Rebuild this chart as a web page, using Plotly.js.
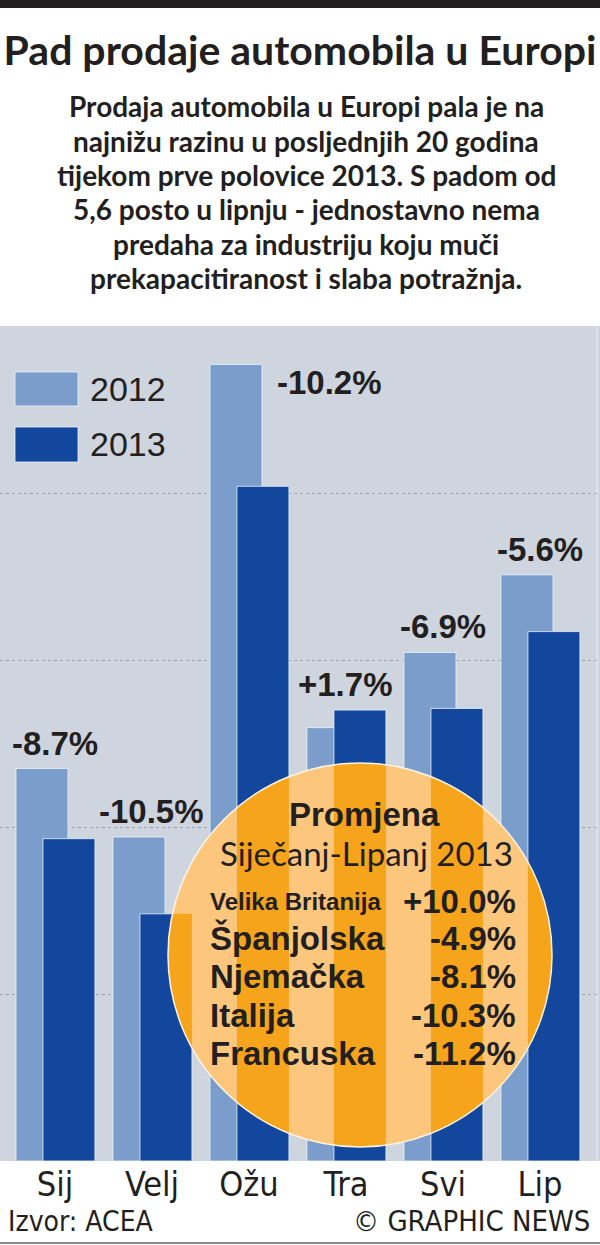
<!DOCTYPE html>
<html>
<head>
<meta charset="utf-8">
<script src="https://cdn.plot.ly/plotly-3.0.1.min.js"></script>
<style>html,body{margin:0;padding:0;background:#fff;}#chart{width:600px;height:1245px;}</style>
</head>
<body>
<div id="chart"></div>
<script>
// ---- data ----
const months = ['Sij', 'Velj', 'Ožu', 'Tra', 'Svi', 'Lip'];
const seriesNames = ['2012', '2013'];
const sales2012 = [970, 888, 1454, 1019, 1109, 1202];   // thousands (approx.)
const sales2013 = [886, 796, 1308, 1040, 1042, 1134];
const changeLabels = ['-8.7%', '-10.5%', '-10.2%', '+1.7%', '-6.9%', '-5.6%'];
const countries = ['Velika Britanija', 'Španjolska', 'Njemačka', 'Italija', 'Francuska'];
const countryChange = ['+10.0%', '-4.9%', '-8.1%', '-10.3%', '-11.2%'];

const title = 'Pad prodaje automobila u Europi';
const subtitleLines = [
  'Prodaja automobila u Europi pala je na',
  'najnižu razinu u posljednjih 20 godina',
  'tijekom prve polovice 2013. S padom od',
  '5,6 posto u lipnju - jednostavno nema',
  'predaha za industriju koju muči',
  'prekapacitiranost i slaba potražnja.'
];
const boxTitle = 'Promjena';
const boxSubtitle = 'Siječanj-Lipanj 2013';
const source = 'Izvor: ACEA';
const credit = '© GRAPHIC NEWS';

// ---- style ----
const W = 600, H = 1245;
const M = {l: 0, r: 0, t: 326, b: 84};
const xr = [-0.567, 5.619];
const yr = [500, 1500];
const off12 = -0.402, off13 = -0.124, bw = 0.536;
const cLight = '#7b9dcc', cDark = '#12479d', cBg = '#cfd5de';
const ink = '#231f20';
const paleOrange = '#fcc77d', satOrange = '#f6a41c';
const plotW = W - M.l - M.r, plotH = H - M.t - M.b;
const pxX = plotW / (xr[1] - xr[0]), pxY = plotH / (yr[1] - yr[0]);
const py = v => (H - M.b - v) / plotH; // pixel y -> paper y
const pxp = v => (v - M.l) / plotW;   // pixel x -> paper x

const xs = months.map((_, i) => i);

const barLine = {color: 'rgba(235,242,250,0.8)', width: 1};
const traces = [
  {type: 'bar', name: seriesNames[0], x: xs, y: sales2012.map(v => v - yr[0]), offset: off12, width: bw,
   base: yr[0], marker: {color: cLight, line: barLine}, hoverinfo: 'skip'},
  {type: 'bar', name: seriesNames[1], x: xs, y: sales2013.map(v => v - yr[0]), offset: off13, width: bw,
   base: yr[0], marker: {color: cDark, line: barLine}, hoverinfo: 'skip'}
];

// ---- circle overlay ----
const circ = {cx: 360, cy: 955, r: 192};
const cxP = pxp(circ.cx), cyP = py(circ.cy);
const cxD = xr[0] + cxP * (xr[1] - xr[0]);
const cyD = yr[0] + cyP * (yr[1] - yr[0]);
const rxD = circ.r / pxX, ryD = circ.r / pxY;

const shapes = [];
shapes.push({type: 'rect', xref: 'paper', yref: 'paper', x0: pxp(0), x1: pxp(600), y0: py(8), y1: py(0),
  fillcolor: ink, line: {width: 0}, layer: 'above'});
shapes.push({type: 'line', xref: 'paper', yref: 'paper', x0: pxp(0), x1: pxp(600), y0: py(1243), y1: py(1243),
  line: {color: '#8a8a8a', width: 2}});
shapes.push({type: 'line', xref: 'paper', yref: 'paper', x0: pxp(597), x1: pxp(597), y0: 0, y1: 1,
  line: {color: 'rgba(255,255,255,0.6)', width: 1}, layer: 'above'});
shapes.push({type: 'rect', xref: 'paper', yref: 'paper', x0: pxp(15), x1: pxp(78), y0: py(406), y1: py(372),
  fillcolor: cLight, line: barLine, layer: 'above'});
shapes.push({type: 'rect', xref: 'paper', yref: 'paper', x0: pxp(15), x1: pxp(78), y0: py(462), y1: py(427),
  fillcolor: cDark, line: barLine, layer: 'above'});

shapes.push({type: 'circle', xref: 'paper', yref: 'paper', xsizemode: 'pixel', ysizemode: 'pixel',
  xanchor: cxP, yanchor: cyP, x0: -circ.r, x1: circ.r, y0: -circ.r, y1: circ.r,
  fillcolor: paleOrange, line: {width: 0}, layer: 'above'});
sales2013.forEach((v, i) => {
  let a = Math.max(i + off13, cxD - rxD), b = Math.min(i + off13 + bw, cxD + rxD);
  if (b <= a) return;
  const N = 80, top = [], bot = [];
  for (let k = 0; k <= N; k++) {
    const x = a + (b - a) * k / N;
    const t = Math.max(0, 1 - Math.pow((x - cxD) / rxD, 2));
    const h = ryD * Math.sqrt(t);
    const lo = Math.max(cyD - h, yr[0]);
    const hi = Math.max(Math.min(v, cyD + h), lo);
    top.push([x, hi]); bot.push([x, lo]);
  }
  if (top.every((p, k) => p[1] - bot[k][1] < 1e-6)) return;
  let d = 'M' + top.map(p => p[0] + ',' + p[1]).join(' L');
  d += ' L' + bot.reverse().map(p => p[0] + ',' + p[1]).join(' L') + ' Z';
  shapes.push({type: 'path', xref: 'x', yref: 'y', path: d, fillcolor: satOrange,
    line: {width: 0}, layer: 'above'});
});
shapes.push({type: 'circle', xref: 'paper', yref: 'paper', xsizemode: 'pixel', ysizemode: 'pixel',
  xanchor: cxP, yanchor: cyP, x0: -circ.r, x1: circ.r, y0: -circ.r, y1: circ.r,
  fillcolor: 'rgba(0,0,0,0)', line: {color: '#fbf3e3', width: 1.5}, layer: 'above'});

// ---- annotations ----
const fHel = '"Liberation Sans", Arial, sans-serif';
const fNarrow = '"Liberation Sans Narrow", "DejaVu Sans Condensed", "Liberation Sans", sans-serif';
const fMyr = 'Lato, "Open Sans", sans-serif';
const ann = [];

const subY = [106, 141, 175, 209, 244, 278];
subtitleLines.forEach((s, k) => {
  ann.push({xref: 'paper', yref: 'paper', x: pxp(306), y: py(subY[k]), xanchor: 'center', yanchor: 'middle',
    text: s, showarrow: false, font: {family: fMyr, size: 28, color: ink, weight: 700}});
});

seriesNames.forEach((s, k) => {
  ann.push({xref: 'paper', yref: 'paper', x: pxp(88), y: py(k === 0 ? 389 : 444), xanchor: 'left', yanchor: 'middle',
    text: s, showarrow: false, font: {family: fHel, size: 34, color: ink}});
});

const tallest = sales2012.indexOf(Math.max(...sales2012));
changeLabels.forEach((t, i) => {
  const yv = Math.max(sales2012[i], sales2013[i]);
  if (i === tallest) {
    ann.push({x: i + off12 + bw, y: sales2012[i], xref: 'x', yref: 'y', xanchor: 'left', yanchor: 'top',
      xshift: 13, yshift: 2, text: t, showarrow: false, font: {family: fHel, size: 33, color: ink, weight: 700}});
  } else {
    ann.push({x: i, y: yv, xref: 'x', yref: 'y', xanchor: 'center', yanchor: 'bottom',
      yshift: 5, text: t, showarrow: false, font: {family: fHel, size: 33, color: ink, weight: 700}});
  }
});

ann.push({xref: 'paper', yref: 'paper', x: pxp(365), y: py(814), xanchor: 'center', yanchor: 'middle',
  text: boxTitle, showarrow: false, font: {family: fHel, size: 33, color: ink, weight: 700}});
ann.push({xref: 'paper', yref: 'paper', x: pxp(366), y: py(853), xanchor: 'center', yanchor: 'middle',
  text: boxSubtitle, showarrow: false, font: {family: fMyr, size: 33, color: ink}});
const rowY = [901, 938, 976, 1015, 1053];
countries.forEach((c, k) => {
  ann.push({xref: 'paper', yref: 'paper', x: pxp(208), y: py(rowY[k]), xanchor: 'left', yanchor: 'middle',
    text: c, showarrow: false, font: {family: fHel, size: k === 0 ? 24 : 33, color: ink, weight: 700}});
  ann.push({xref: 'paper', yref: 'paper', x: pxp(518), y: py(rowY[k]), xanchor: 'right', yanchor: 'middle',
    text: countryChange[k], showarrow: false, font: {family: fHel, size: 33, color: ink, weight: 700}});
});

ann.push({xref: 'paper', yref: 'paper', x: pxp(6), y: py(1221), xanchor: 'left', yanchor: 'middle',
  text: source, showarrow: false, font: {family: fNarrow, size: 28, color: ink}});
ann.push({xref: 'paper', yref: 'paper', x: pxp(592), y: py(1221), xanchor: 'right', yanchor: 'middle',
  text: credit, showarrow: false, font: {family: fNarrow, size: 29, color: ink}});

const layout = {
  width: W, height: H, margin: M,
  paper_bgcolor: '#ffffff', plot_bgcolor: cBg,
  showlegend: false, barmode: 'overlay',
  title: {text: title, x: 0.5, xanchor: 'center', y: 1 - 51 / H, yanchor: 'middle', yref: 'container',
    font: {family: fMyr, size: 41, color: ink, weight: 700}},
  xaxis: {range: xr, tickvals: xs, ticktext: months, showgrid: false, zeroline: false, ticks: '',
    showline: false, tickfont: {family: fNarrow, size: 34, color: ink}, fixedrange: true},
  yaxis: {range: yr, tick0: 500, dtick: 200, showgrid: true, gridcolor: '#9ea5ae', griddash: 'dot',
    gridwidth: 1, showticklabels: false, zeroline: false, ticks: '', fixedrange: true},
  shapes: shapes, annotations: ann
};

Plotly.newPlot('chart', traces, layout, {staticPlot: true});
</script>
</body>
</html>
